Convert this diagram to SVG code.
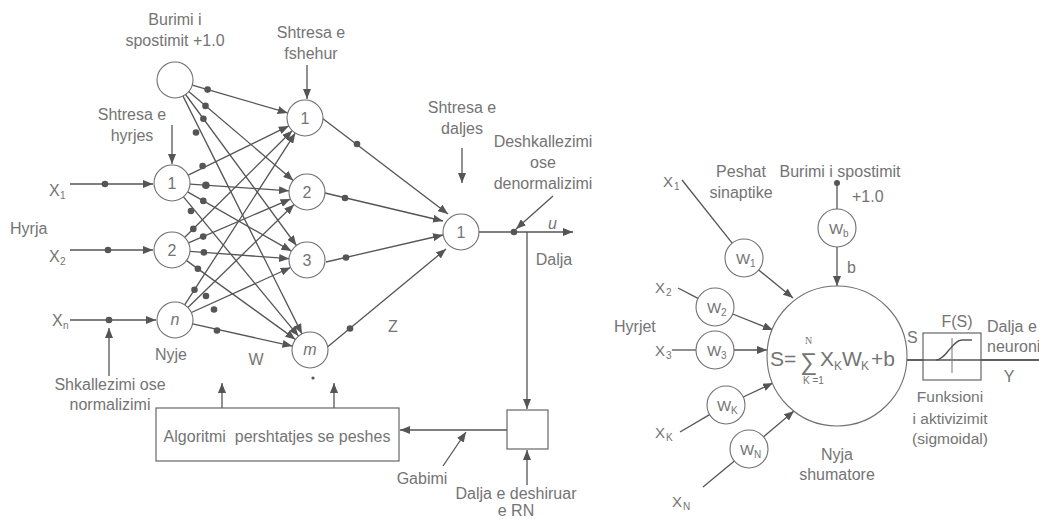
<svg xmlns="http://www.w3.org/2000/svg" width="1039" height="519" viewBox="0 0 1039 519">
<defs>
<marker id="ah" markerUnits="userSpaceOnUse" markerWidth="11" markerHeight="8" refX="10" refY="4" orient="auto">
<path d="M0,0 L10,4 L0,8 z" fill="#555"/>
</marker>
</defs>
<style>
text{font-family:"Liberation Sans",Arial,sans-serif;fill:#747474;font-size:16px}
.m{text-anchor:middle}
.sub{font-size:10px}
.w{font-size:15px}
.eq{font-size:21px}
.eqs{font-size:12px}
.f{font-size:15.5px}
.n{fill:#fff;stroke:#707070;stroke-width:1.1}
.l{stroke:#555;stroke-width:1.3;fill:none}
.a{stroke:#555;stroke-width:1.3;fill:none;marker-end:url(#ah)}
.d{fill:#555}
.thin{stroke:#777;stroke-width:1;fill:none}
.box{fill:#fff;stroke:#666;stroke-width:1.2}
.pre{white-space:pre}
</style>
<rect width="1039" height="519" fill="#fff"/>

<g id="connectors">
<line class="a" x1="70" y1="184" x2="153" y2="184"/>
<line class="a" x1="70" y1="250" x2="153" y2="250"/>
<line class="a" x1="70" y1="320" x2="156" y2="320"/>
<line class="a" x1="109" y1="376" x2="109" y2="328"/>
<line class="a" x1="172" y1="125" x2="172" y2="164"/>
<line class="a" x1="307" y1="65" x2="307" y2="99"/>
<line class="a" x1="462" y1="148" x2="462" y2="183"/>
<line class="a" x1="192.3" y1="85.1" x2="287.7" y2="112.9"/>
<line class="a" x1="188.7" y1="91.6" x2="293.3" y2="180.4"/>
<line class="a" x1="185.6" y1="94.5" x2="296.4" y2="245.5"/>
<line class="a" x1="183" y1="96.1" x2="302" y2="333.9"/>
<line class="a" x1="188.2" y1="175.1" x2="288.8" y2="125.9"/>
<line class="a" x1="190" y1="184.2" x2="289" y2="190.8"/>
<line class="a" x1="187.6" y1="191.9" x2="291.4" y2="251.1"/>
<line class="a" x1="183.5" y1="196.9" x2="298.5" y2="336.1"/>
<line class="a" x1="184.8" y1="237.3" x2="292.2" y2="130.7"/>
<line class="a" x1="188.5" y1="242.9" x2="290.5" y2="199.1"/>
<line class="a" x1="189.9" y1="251.3" x2="289.1" y2="258.7"/>
<line class="a" x1="186.6" y1="260.6" x2="295.4" y2="339.4"/>
<line class="a" x1="184.7" y1="304.9" x2="295.3" y2="133.1"/>
<line class="a" x1="187.9" y1="307.5" x2="294.1" y2="204.5"/>
<line class="a" x1="191.4" y1="312.5" x2="290.6" y2="267.5"/>
<line class="a" x1="192.6" y1="323.9" x2="292.4" y2="346.1"/>
<line class="a" x1="322" y1="118" x2="448" y2="214"/>
<line class="a" x1="325" y1="193" x2="443" y2="221"/>
<line class="a" x1="326" y1="262" x2="443" y2="235"/>
<line class="a" x1="325" y1="349" x2="446" y2="249"/>
<line class="a" x1="479" y1="232" x2="573" y2="232"/>
<line class="a" x1="553" y1="196" x2="516" y2="229"/>
<line class="a" x1="527" y1="232" x2="527" y2="409"/>
<line class="a" x1="527" y1="485" x2="527" y2="450"/>
<line class="a" x1="507" y1="430" x2="400" y2="430"/>
<line class="a" x1="443" y1="466" x2="466" y2="432"/>
<line class="a" x1="222" y1="408" x2="222" y2="383"/>
<line class="a" x1="334" y1="408" x2="334" y2="383"/>
<circle class="d" cx="105" cy="184" r="3.3"/>
<circle class="d" cx="108" cy="250" r="3.3"/>
<circle class="d" cx="109" cy="320" r="3.3"/>
<circle class="d" cx="207.6" cy="89.6" r="3.3"/>
<circle class="d" cx="205.5" cy="105.9" r="3.3"/>
<circle class="d" cx="203.4" cy="118.7" r="3.3"/>
<circle class="d" cx="196" cy="132.5" r="3.3"/>
<circle class="d" cx="202.6" cy="166" r="3.3"/>
<circle class="d" cx="205.9" cy="185.3" r="3.8"/>
<circle class="d" cx="203.3" cy="200.9" r="3.3"/>
<circle class="d" cx="191" cy="211" r="3.3"/>
<circle class="d" cx="193.3" cy="228.9" r="3.3"/>
<circle class="d" cx="203.2" cy="236.6" r="3.3"/>
<circle class="d" cx="203.9" cy="252.4" r="3.3"/>
<circle class="d" cx="197.9" cy="268.8" r="3.3"/>
<circle class="d" cx="194.5" cy="289.7" r="3.3"/>
<circle class="d" cx="206" cy="296" r="3.3"/>
<circle class="d" cx="214" cy="309.5" r="3.3"/>
<circle class="d" cx="217" cy="330.5" r="3.3"/>
<circle class="d" cx="357" cy="144" r="3.3"/>
<circle class="d" cx="345" cy="198" r="3.3"/>
<circle class="d" cx="346" cy="257.5" r="3.3"/>
<circle class="d" cx="350" cy="328.5" r="3.3"/>
<circle class="d" cx="514" cy="232" r="3.3"/>
<circle class="d" cx="313" cy="378" r="1.6"/>

<line class="l" x1="682" y1="180" x2="732.2" y2="243.1"/>
<line class="a" x1="758.7" y1="270" x2="793" y2="298"/>
<line class="l" x1="678" y1="288" x2="698" y2="298.3"/>
<line class="a" x1="732.7" y1="314" x2="773" y2="330"/>
<line class="l" x1="672" y1="350" x2="696" y2="350"/>
<line class="a" x1="734" y1="350" x2="767" y2="350"/>
<line class="l" x1="680" y1="432" x2="709.6" y2="414.6"/>
<line class="a" x1="743.2" y1="397" x2="773" y2="383"/>
<line class="l" x1="703" y1="487" x2="734.4" y2="461.1"/>
<line class="a" x1="763.6" y1="436.8" x2="794" y2="411"/>
<line class="l" x1="837" y1="183" x2="837" y2="209"/>
<line class="a" x1="837" y1="247" x2="837" y2="286"/>
<circle class="d" cx="837" cy="183" r="3"/>
<line class="l" x1="907" y1="360" x2="1039" y2="360"/>
</g>

<g id="node-bias">
<circle class="n" cx="175" cy="80" r="18"/>
<text class="m" x="175" y="25">Burimi i</text>
<text class="m" x="175" y="46">spostimit +1.0</text>
</g>
<g id="node-in1"><circle class="n" cx="172" cy="183" r="18"/><text class="m" x="172" y="189">1</text></g>
<g id="node-in2"><circle class="n" cx="172" cy="250" r="18"/><text class="m" x="172" y="256">2</text></g>
<g id="node-inn"><circle class="n" cx="175" cy="320" r="18"/><text class="m" x="175" y="325" font-style="italic">n</text></g>
<g id="node-h1"><circle class="n" cx="305" cy="118" r="18"/><text class="m" x="305" y="124">1</text></g>
<g id="node-h2"><circle class="n" cx="307" cy="192" r="18"/><text class="m" x="307" y="198">2</text></g>
<g id="node-h3"><circle class="n" cx="307" cy="260" r="18"/><text class="m" x="307" y="266">3</text></g>
<g id="node-hm"><circle class="n" cx="310" cy="350" r="18"/><text class="m" x="310" y="355" font-style="italic">m</text></g>
<g id="node-out"><circle class="n" cx="461" cy="232" r="18"/><text class="m" x="461" y="238">1</text></g>

<g id="node-algo">
<rect class="box" x="156" y="408" width="243" height="53"/>
<text class="m pre" x="277" y="442">Algoritmi  pershtatjes se peshes</text>
</g>
<g id="node-compare">
<rect class="box" x="507" y="410" width="41" height="39"/>
</g>

<g id="labels-left">
<text x="49" y="196">X</text><text class="sub" x="60" y="199">1</text>
<text x="49" y="262">X</text><text class="sub" x="60" y="265">2</text>
<text x="52" y="326">X</text><text class="sub" x="63" y="329">n</text>
<text x="10" y="234">Hyrja</text>
<text class="m" x="132" y="120">Shtresa e</text>
<text class="m" x="132" y="141">hyrjes</text>
<text class="m" x="311" y="38">Shtresa e</text>
<text class="m" x="311" y="59">fshehur</text>
<text class="m" x="462" y="113">Shtresa e</text>
<text class="m" x="462" y="134">daljes</text>
<text class="m" x="543" y="147">Deshkallezimi</text>
<text class="m" x="543" y="168">ose</text>
<text class="m" x="543" y="189">denormalizimi</text>
<text x="548" y="229" font-style="italic">u</text>
<text class="m" x="554" y="265">Dalja</text>
<text class="m" x="171" y="360">Nyje</text>
<text class="m" x="256" y="365">W</text>
<text class="m" x="393" y="332">Z</text>
<text class="m" x="110" y="390">Shkallezimi ose</text>
<text class="m" x="110" y="410">normalizimi</text>
<text class="m" x="422" y="484">Gabimi</text>
<text class="m" x="516" y="499">Dalja e deshiruar</text>
<text class="m" x="516" y="516">e RN</text>
</g>

<g id="node-w1"><circle class="n" cx="744" cy="258" r="19"/><text class="w" x="736" y="264">W</text><text class="sub" x="750" y="267">1</text></g>
<g id="node-w2"><circle class="n" cx="715" cy="307" r="19"/><text class="w" x="707" y="313">W</text><text class="sub" x="721" y="316">2</text></g>
<g id="node-w3"><circle class="n" cx="715" cy="350" r="19"/><text class="w" x="707" y="356">W</text><text class="sub" x="721" y="359">3</text></g>
<g id="node-wk"><circle class="n" cx="726" cy="405" r="19"/><text class="w" x="717" y="411">W</text><text class="sub" x="731" y="414">K</text></g>
<g id="node-wn"><circle class="n" cx="749" cy="449" r="19"/><text class="w" x="740" y="455">W</text><text class="sub" x="754" y="458">N</text></g>
<g id="node-wb"><circle class="n" cx="837" cy="228" r="19"/><text class="w" x="829" y="234">W</text><text class="sub" x="843" y="237">b</text></g>

<g id="node-sum">
<circle class="n" cx="837" cy="356" r="70"/>
<text class="eq" x="770" y="366">S=</text>
<text x="805" y="344" style="font-size:10px;font-family:'Liberation Serif',serif">N</text>
<text x="800" y="370" style="font-size:24px">∑</text>
<text class="eq" x="820" y="366">X</text><text class="eqs" x="834" y="370">K</text>
<text class="eq" x="842" y="366">W</text><text class="eqs" x="861" y="370">K</text>
<text class="eq" x="871" y="366">+b</text>
<text x="803" y="384" style="font-size:10px">K =1</text>
<text class="m" x="837" y="460">Nyja</text>
<text class="m" x="837" y="480">shumatore</text>
</g>

<g id="node-activation">
<rect class="box" x="923" y="333" width="58" height="47" fill="none"/>
<line class="l" x1="907" y1="360" x2="1039" y2="360"/>
<line class="thin" x1="952" y1="338" x2="952" y2="373"/>
<path class="l" d="M936,360 C946,360 952,340 962,340 L972,340"/>
<text class="m" x="957" y="327">F(S)</text>
<text x="907" y="343">S</text>
<text class="m f" x="950" y="402">Funksioni</text>
<text class="m f" x="950" y="424">i aktivizimit</text>
<text class="m f" x="950" y="444">(sigmoidal)</text>
</g>

<g id="labels-right">
<text class="w" x="663" y="187">X</text><text class="sub" x="674" y="190">1</text>
<text class="w" x="655" y="293">X</text><text class="sub" x="666" y="296">2</text>
<text class="w" x="655" y="356">X</text><text class="sub" x="666" y="359">3</text>
<text class="w" x="655" y="438">X</text><text class="sub" x="666" y="441">K</text>
<text class="w" x="672" y="507">X</text><text class="sub" x="683" y="510">N</text>
<text x="614" y="332">Hyrjet</text>
<text class="m" x="741" y="177">Peshat</text>
<text class="m" x="741" y="198">sinaptike</text>
<text class="m" x="840" y="177">Burimi i spostimit</text>
<text x="852" y="202">+1.0</text>
<text x="847" y="273">b</text>
<text x="987" y="332">Dalja e</text>
<text x="987" y="352">neuroni</text>
<text class="m" x="1009" y="382">Y</text>
</g>
</svg>
